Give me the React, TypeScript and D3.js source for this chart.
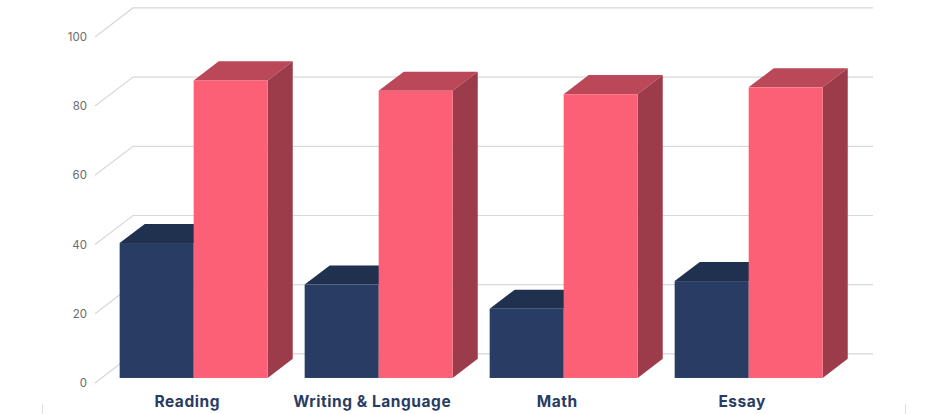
import React from "react";
import * as d3 from "d3";

const categories = ["Reading", "Writing & Language", "Math", "Essay"];
const seriesNames = ["navy", "pink"];
const navyValues = [39, 27, 20, 28];
const pinkValues = [86, 83, 82, 84];
const yTicks = [0, 20, 40, 60, 80, 100];

const W = 943, H = 414;
const DX = 38, DY = 29;
const Z0 = 0.17, Z1 = 0.83;
const colors = {
  navy: { front: "#293c63", top: "#20304f", side: "#1c2a45" },
  pink: { front: "#fc6076", top: "#bb4858", side: "#9c3b49" },
};

const x = d3.scaleBand<string>().domain(categories).range([94.7, 834.7]).paddingInner(0.2).paddingOuter(0.1);
const xs = d3.scaleBand<string>().domain(seriesNames).range([0, x.bandwidth()]);
const y = d3.scaleLinear().domain([0, 100]).range([382.9, 36.9]);

const poly = (pts: [number, number][]) => pts.map((p) => p.join(",")).join(" ");

export default function App() {
  const values: Record<string, number[]> = { navy: navyValues, pink: pinkValues };
  return (
    <svg width={W} height={H} style={{ position: "absolute", left: 0, top: 0, background: "#fff" }}>
      {yTicks.map((t) => (
        <g key={t}>
          <polyline
            points={poly([[95, y(t)], [95 + DX, y(t) - DY], [835 + DX, y(t) - DY]])}
            fill="none"
            stroke="#d8d8d8"
            strokeWidth={1.2}
          />
          <text x={87} y={y(t) + 4} textAnchor="end" fontFamily="Inter, Roboto, sans-serif" fontSize={11.5} fill="#6b6b6b">
            {t}
          </text>
        </g>
      ))}
      {categories.map((c, i) => (
        <g key={c}>
          {seriesNames.map((s) => {
            const v = values[s][i];
            const col = colors[s as "navy" | "pink"];
            const l = x(c)! + xs(s)! + Z0 * DX;
            const r = l + xs.bandwidth();
            const b = y(0) - Z0 * DY;
            const t = y(v) - Z0 * DY;
            const d = Z1 - Z0;
            const ox = d * DX, oy = d * DY;
            return (
              <g key={s}>
                <polygon points={poly([[l, t], [l + ox, t - oy], [r + ox, t - oy], [r, t]])} fill={col.top} />
                <polygon points={poly([[r, t], [r + ox, t - oy], [r + ox, b - oy], [r, b]])} fill={col.side} />
                <rect x={l} y={t} width={r - l} height={b - t} fill={col.front} />
              </g>
            );
          })}
          <text
            x={x(c)! + x.bandwidth() / 2}
            y={407}
            textAnchor="middle"
            fontFamily="Inter, Roboto, sans-serif"
            fontWeight={700}
            fontSize={15.5}
            letterSpacing={0.55}
            fill="#293c63"
          >
            {c}
          </text>
        </g>
      ))}
      <line x1={42.5} x2={42.5} y1={404} y2={414} stroke="#e0e0e0" />
      <line x1={905.5} x2={905.5} y1={404} y2={414} stroke="#e0e0e0" />
    </svg>
  );
}
